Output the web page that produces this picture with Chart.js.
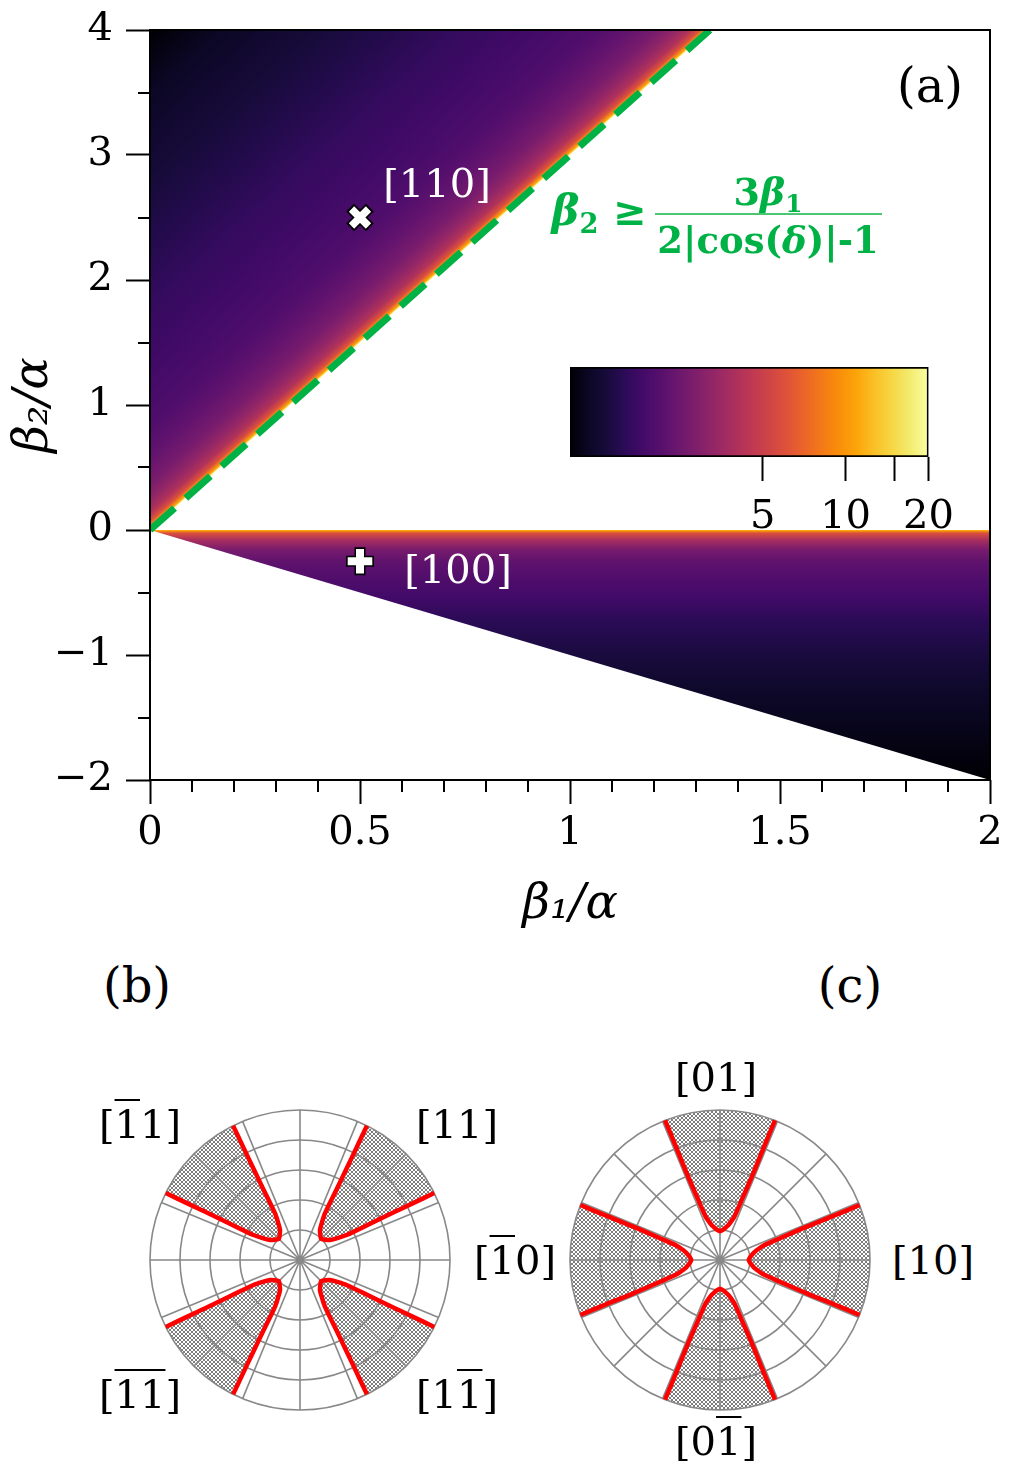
<!DOCTYPE html>
<html><head><meta charset="utf-8">
<script src="https://cdn.jsdelivr.net/npm/chart.js@4/dist/chart.umd.min.js"></script>
<style>
html,body{margin:0;padding:0;background:#fff;}
#page{position:relative;width:1020px;height:1470px;overflow:hidden;font-family:'DejaVu Serif',serif;}
canvas{position:absolute;}
.lbl{position:absolute;transform:translate(-50%,-50%);white-space:nowrap;line-height:1;font-size:40px;color:#000;font-family:'DejaVu Serif',serif;}
.ov{text-decoration:overline;text-decoration-thickness:2px;}
.fm{position:absolute;transform:translate(-50%,-50%);white-space:nowrap;line-height:1;font-weight:bold;color:#00b246;font-family:'DejaVu Serif',serif;}
.sb{font-size:0.65em;position:relative;top:0.3em;}
.fbar{position:absolute;height:2px;background:#4cc575;}
</style></head>
<body><div id="page">
<canvas id="main" width="1020" height="950" style="left:0;top:0"></canvas>
<canvas id="cbar" width="420" height="180" style="left:540px;top:357px"></canvas>
<canvas id="polB" width="340" height="340" style="left:130px;top:1090px"></canvas>
<canvas id="polC" width="340" height="340" style="left:550px;top:1090px"></canvas>

<div class="lbl" style="left:930px;top:85px;font-size:48px">(a)</div>
<div class="lbl" style="left:437px;top:183px;color:#fff">[110]</div>
<div class="lbl" style="left:458px;top:569px;color:#fff">[100]</div>

<div class="fm" style="left:575px;top:211px;font-size:42px"><i>β</i><span class="sb">2</span></div>
<div class="fm" style="left:630px;top:211px;font-size:40px">≥</div>
<div class="fbar" style="left:655px;top:213px;width:227px"></div>
<div class="fm" style="left:768px;top:192px;font-size:38px">3<i>β</i><span class="sb">1</span></div>
<div class="fm" style="left:768px;top:240px;font-size:37px">2|cos(<i>δ</i>)|-1</div>

<div class="lbl" style="left:137px;top:985px;font-size:48px">(b)</div>
<div class="lbl" style="left:850px;top:985px;font-size:48px">(c)</div>
<div class="lbl" style="left:140px;top:1124px">[<span class="ov">1</span>1]</div>
<div class="lbl" style="left:457px;top:1124px">[11]</div>
<div class="lbl" style="left:140px;top:1394px">[<span class="ov">11</span>]</div>
<div class="lbl" style="left:457px;top:1394px">[1<span class="ov">1</span>]</div>
<div class="lbl" style="left:716px;top:1077px">[01]</div>
<div class="lbl" style="left:515px;top:1260px">[<span class="ov">1</span>0]</div>
<div class="lbl" style="left:933px;top:1260px">[10]</div>
<div class="lbl" style="left:716px;top:1441px">[0<span class="ov">1</span>]</div>
</div>
<script>
// ---------------- data: panel (a) ----------------
const xMajorTicks = [0, 0.5, 1, 1.5, 2];
const xTickLabels = ['0', '0.5', '1', '1.5', '2'];
const xMinorTicks = [0.1,0.2,0.3,0.4,0.6,0.7,0.8,0.9,1.1,1.2,1.3,1.4,1.6,1.7,1.8,1.9];
const yMajorTicks = [-2, -1, 0, 1, 2, 3, 4];
const yTickLabels = ['\u22122', '\u22121', '0', '1', '2', '3', '4'];
const yMinorTicks = [-1.5, -0.5, 0.5, 1.5, 2.5, 3.5];
// boundary beta2 = 3 beta1 (dashed) and lower edge beta2 = -beta1
const upperEdgeX = [0, 1.333];
const upperEdgeY = [0, 4];
const lowerEdgeX = [0, 2];
const lowerEdgeY = [0, -2];
// colour value (colorbar units) vs vertical offset above the dashed boundary (upper wedge)
const upperOffset = [0, 0.02, 0.07, 0.14, 0.24, 0.38, 0.6, 0.8, 1.0, 1.4, 1.8, 2.3, 2.8, 3.1, 3.5, 4.0];
const upperValue  = [20, 11, 6.0, 4.1, 3.3, 2.7, 2.3, 2.05, 1.93, 1.77, 1.66, 1.48, 1.35, 1.27, 1.16, 1.0];
// colour value vs depth below beta2 = 0 (lower wedge)
const lowerDepth = [0, 0.004, 0.024, 0.08, 0.16, 0.26, 0.4, 0.54, 0.72, 0.99, 1.25, 1.52, 1.94, 2.0];
const lowerValue = [17, 11, 6.0, 3.85, 2.7, 2.25, 2.0, 1.82, 1.57, 1.39, 1.23, 1.13, 1.01, 1.0];
// markers
const mark110 = {x: 0.5, y: 2.5};
const mark100 = {x: 0.5, y: -0.25};
// colorbar
const cbarMin = 1, cbarMax = 20;
const cbarTicks = [5, 10, 15, 20];
const cbarTickLabels = ['5', '10', '', '20'];
// ---------------- data: panels (b), (c) ----------------
const polarRmax = 5;
const polarRings = [1, 2, 3, 4, 5];
const polarSpokes = [0, 22.5, 45, 67.5, 90, 112.5, 135, 157.5, 180, 202.5, 225, 247.5, 270, 292.5, 315, 337.5];
const bLobeAxes = [45, 135, 225, 315];
const bLobePsi = [0, 5, 11.3, 14.4, 16.8, 17.6, 18.0, 18.3, 18.5];
const bLobeR   = [1.0, 1.06, 1.2, 1.42, 1.76, 2.63, 3.43, 4.22, 5.0];
const cLobeAxes = [0, 90, 180, 270];
const cLobePsi = [0, 6, 10, 13.5, 16, 18.3, 19.9, 21.0, 21.3, 21.5];
const cLobeR   = [0.96, 1.02, 1.1, 1.2, 1.33, 1.52, 2.13, 3.1, 4.3, 5.0];

// ---------------- styles ----------------
const FONT = "'DejaVu Serif', serif";
const GREEN = '#00b246';
const RED = '#ff0000';
const GRID = '#888888';
const INFERNO = [[0,'#000004'],[0.05,'#0b0724'],[0.1,'#160b39'],[0.15,'#2b0b57'],[0.2,'#420a68'],[0.25,'#560f6d'],[0.3,'#6a176e'],[0.35,'#7f1e6c'],[0.4,'#932667'],[0.45,'#a82e5f'],[0.5,'#bc3754'],[0.55,'#cd4347'],[0.6,'#dd513a'],[0.65,'#ea632a'],[0.7,'#f37819'],[0.75,'#f98e09'],[0.8,'#fca50a'],[0.85,'#fac127'],[0.9,'#f6d746'],[0.95,'#f2ec70'],[1,'#fcffa4']];

function hex2rgb(h){return [parseInt(h.slice(1,3),16),parseInt(h.slice(3,5),16),parseInt(h.slice(5,7),16)];}
function cmap(p){
  p = Math.max(0, Math.min(1, p));
  for (let i = 1; i < INFERNO.length; i++) {
    if (p <= INFERNO[i][0]) {
      const [p0,c0] = INFERNO[i-1], [p1,c1] = INFERNO[i];
      const t = (p - p0) / (p1 - p0), a = hex2rgb(c0), b = hex2rgb(c1);
      return 'rgb(' + a.map((v,k)=>Math.round(v + (b[k]-v)*t)).join(',') + ')';
    }
  }
  return INFERNO[INFERNO.length-1][1];
}
const vToP = v => Math.log(v / cbarMin) / Math.log(cbarMax / cbarMin);

function lowerGradient(c){
  const chart = c.chart; if (!chart.chartArea) return 'rgba(0,0,0,0)';
  const y = chart.scales.y;
  const dMax = lowerDepth[lowerDepth.length-1];
  const g = chart.ctx.createLinearGradient(0, y.getPixelForValue(0), 0, y.getPixelForValue(-dMax));
  lowerDepth.forEach((d,i)=> g.addColorStop(d/dMax, cmap(vToP(lowerValue[i]))));
  return g;
}
function upperGradient(c){
  const chart = c.chart; if (!chart.chartArea) return 'rgba(0,0,0,0)';
  const {x, y} = chart.scales;
  const ox = x.getPixelForValue(upperEdgeX[0]), oy = y.getPixelForValue(upperEdgeY[0]);
  const dx = x.getPixelForValue(upperEdgeX[1]) - ox, dy = y.getPixelForValue(upperEdgeY[1]) - oy;
  let nx = -dy, ny = dx; const len = Math.hypot(nx, ny); nx /= len; ny /= len;
  const uMax = upperOffset[upperOffset.length-1];
  const px = x.getPixelForValue(0) - ox, py = y.getPixelForValue(uMax) - oy;
  let L = nx*px + ny*py; if (L < 0) { nx = -nx; ny = -ny; L = -L; }
  const g = chart.ctx.createLinearGradient(ox, oy, ox + nx*L, oy + ny*L);
  upperOffset.forEach((u,i)=> g.addColorStop(u/uMax, cmap(vToP(upperValue[i]))));
  return g;
}

const frameAndMinor = {
  id: 'frameAndMinor',
  afterDraw(chart){
    const {ctx, chartArea: ca, scales: {x, y}} = chart;
    ctx.save();
    ctx.strokeStyle = '#000'; ctx.lineWidth = 2;
    ctx.beginPath();
    xMinorTicks.forEach(v => { const p = Math.round(x.getPixelForValue(v)); ctx.moveTo(p, ca.bottom); ctx.lineTo(p, ca.bottom + 12); });
    yMinorTicks.forEach(v => { const p = Math.round(y.getPixelForValue(v)); ctx.moveTo(ca.left - 12, p); ctx.lineTo(ca.left, p); });
    ctx.stroke();
    ctx.strokeRect(ca.left, ca.top, ca.right - ca.left, ca.bottom - ca.top);
    ctx.restore();
  }
};

const pts = (xs, ys) => xs.map((v,i)=>({x: v, y: ys[i]}));

new Chart(document.getElementById('main'), {
  type: 'line',
  data: { datasets: [
    {data: pts(lowerEdgeX, lowerEdgeY), fill: 'origin', backgroundColor: lowerGradient, borderWidth: 0, borderColor: 'rgba(0,0,0,0)', pointRadius: 0, order: 4},
    {data: pts(upperEdgeX, upperEdgeY), fill: 'end', backgroundColor: upperGradient, borderWidth: 0, borderColor: 'rgba(0,0,0,0)', pointRadius: 0, order: 3},
    {data: pts(upperEdgeX, upperEdgeY), fill: false, borderColor: GREEN, borderWidth: 7, borderDash: [33, 15], borderCapStyle: 'butt', pointRadius: 0, order: 2},
    {data: [mark110], showLine: false, pointStyle: 'crossRot', pointRadius: 14, pointBorderWidth: 11, pointBorderColor: '#000', pointBackgroundColor: '#000', order: 1},
    {data: [mark110], showLine: false, pointStyle: 'crossRot', pointRadius: 12, pointBorderWidth: 7.5, pointBorderColor: '#fff', pointBackgroundColor: '#fff', order: 0},
    {data: [mark100], showLine: false, pointStyle: 'cross', pointRadius: 14, pointBorderWidth: 11, pointBorderColor: '#000', pointBackgroundColor: '#000', order: 1},
    {data: [mark100], showLine: false, pointStyle: 'cross', pointRadius: 12.3, pointBorderWidth: 8, pointBorderColor: '#fff', pointBackgroundColor: '#fff', order: 0}
  ]},
  options: {
    responsive: false, animation: false, devicePixelRatio: 1, events: [],
    layout: {padding: {top: 30, right: 30, left: 0, bottom: 0}},
    plugins: {legend: {display: false}, tooltip: {enabled: false}},
    scales: {
      x: {type: 'linear', min: 0, max: 2, position: 'bottom',
        afterBuildTicks: s => { s.ticks = xMajorTicks.map(v => ({value: v})); },
        afterFit: s => { s.height = 170; },
        ticks: {font: {family: FONT, size: 40}, color: '#000', padding: 6, maxRotation: 0, autoSkip: false, callback: (v, i) => xTickLabels[i]},
        grid: {drawOnChartArea: false, tickLength: 24, tickWidth: 2, tickColor: '#000', color: '#000'},
        border: {display: false},
        title: {display: true, text: 'β₁/α', font: {family: FONT, size: 48, style: 'italic'}, color: '#000', padding: {top: 0, bottom: 16}}
      },
      y: {type: 'linear', min: -2, max: 4, position: 'left',
        afterBuildTicks: s => { s.ticks = yMajorTicks.map(v => ({value: v})); },
        afterFit: s => { s.width = 150; },
        ticks: {font: {family: FONT, size: 40, lineHeight: 0.8}, color: '#000', padding: 13, autoSkip: false, callback: (v, i) => yTickLabels[i]},
        grid: {drawOnChartArea: false, tickLength: 24, tickWidth: 2, tickColor: '#000', color: '#000'},
        border: {display: false},
        title: {display: true, text: 'β₂/α', font: {family: FONT, size: 48, style: 'italic'}, color: '#000', padding: {top: 6, bottom: 0}}
      }
    }
  },
  plugins: [frameAndMinor]
});

// ---------------- colorbar ----------------
new Chart(document.getElementById('cbar'), {
  type: 'bar',
  data: {labels: ['c'], datasets: [{
    data: [[cbarMin, cbarMax]],
    backgroundColor: c => {
      const ca = c.chart.chartArea; if (!ca) return '#000';
      const g = c.chart.ctx.createLinearGradient(ca.left, 0, ca.right, 0);
      INFERNO.forEach(([p, col]) => g.addColorStop(p, col));
      return g;
    },
    borderColor: '#000', borderWidth: 2, borderSkipped: false, barPercentage: 1, categoryPercentage: 1
  }]},
  options: {
    indexAxis: 'y', responsive: false, animation: false, devicePixelRatio: 1, events: [],
    layout: {padding: {left: 30, right: 30, top: 10, bottom: 0}},
    plugins: {legend: {display: false}, tooltip: {enabled: false}},
    scales: {
      x: {type: 'logarithmic', min: cbarMin, max: cbarMax, position: 'bottom',
        afterBuildTicks: s => { s.ticks = cbarTicks.map(v => ({value: v})); },
        afterFit: s => { s.height = 80; },
        ticks: {font: {family: FONT, size: 40, lineHeight: 1.55}, color: '#000', padding: 6, maxRotation: 0, autoSkip: false, callback: (v, i) => cbarTickLabels[i]},
        grid: {drawOnChartArea: false, tickLength: 24, tickWidth: 2, tickColor: '#000', color: '#000'},
        border: {display: false}
      },
      y: {display: false}
    }
  }
});

// ---------------- polar panels ----------------
const polar = (deg, r) => ({x: r*Math.cos(deg*Math.PI/180), y: r*Math.sin(deg*Math.PI/180)});
function lobeData(axisDeg, psi, rr){
  const out = [];
  for (let i = psi.length-1; i >= 0; i--) out.push(polar(axisDeg + psi[i], rr[i]));
  for (let i = 1; i < psi.length; i++) out.push(polar(axisDeg - psi[i], rr[i]));
  return out;
}
function makeHatch(ctx){
  const c = document.createElement('canvas'); c.width = c.height = 4;
  const g = c.getContext('2d');
  g.fillStyle = '#fff'; g.fillRect(0,0,4,4);
  g.strokeStyle = '#6e6e6e'; g.lineWidth = 0.9;
  g.beginPath(); g.moveTo(0,0); g.lineTo(4,4); g.moveTo(0,4); g.lineTo(4,0); g.stroke();
  return ctx.createPattern(c, 'repeat');
}
const polarDecor = {
  id: 'polarDecor',
  beforeDatasetsDraw(chart){
    const {ctx, scales: {x, y}} = chart;
    const cx = x.getPixelForValue(0), cy = y.getPixelForValue(0);
    const rpx = v => x.getPixelForValue(v) - cx;
    const R = rpx(polarRmax);
    ctx.save();
    ctx.fillStyle = makeHatch(ctx);
    chart.data.datasets.forEach(ds => {
      const p = ds.data.map(d => [x.getPixelForValue(d.x), y.getPixelForValue(d.y)]);
      ctx.beginPath();
      p.forEach((q, i) => i ? ctx.lineTo(q[0], q[1]) : ctx.moveTo(q[0], q[1]));
      const aLast = Math.atan2(p[p.length-1][1]-cy, p[p.length-1][0]-cx);
      const aFirst = Math.atan2(p[0][1]-cy, p[0][0]-cx);
      ctx.arc(cx, cy, R, aLast, aFirst, true);
      ctx.closePath(); ctx.fill();
    });
    ctx.strokeStyle = GRID; ctx.lineWidth = 1.6;
    polarRings.forEach(r => { ctx.beginPath(); ctx.arc(cx, cy, rpx(r), 0, Math.PI*2); ctx.stroke(); });
    ctx.beginPath();
    polarSpokes.forEach(a => { const q = polar(a, polarRmax); ctx.moveTo(cx, cy); ctx.lineTo(x.getPixelForValue(q.x), y.getPixelForValue(q.y)); });
    ctx.stroke();
    ctx.restore();
  }
};
function polarChart(id, axes, psi, rr){
  return new Chart(document.getElementById(id), {
    type: 'line',
    data: {datasets: axes.map(ax => ({data: lobeData(ax, psi, rr), borderColor: RED, borderWidth: 4.5, pointRadius: 0, fill: false, tension: 0.3, clip: false}))},
    options: {
      responsive: false, animation: false, devicePixelRatio: 1, events: [],
      layout: {padding: 20},
      plugins: {legend: {display: false}, tooltip: {enabled: false}},
      scales: {
        x: {type: 'linear', min: -polarRmax, max: polarRmax, display: false},
        y: {type: 'linear', min: -polarRmax, max: polarRmax, display: false}
      }
    },
    plugins: [polarDecor]
  });
}
polarChart('polB', bLobeAxes, bLobePsi, bLobeR);
polarChart('polC', cLobeAxes, cLobePsi, cLobeR);
</script>
</body></html>
